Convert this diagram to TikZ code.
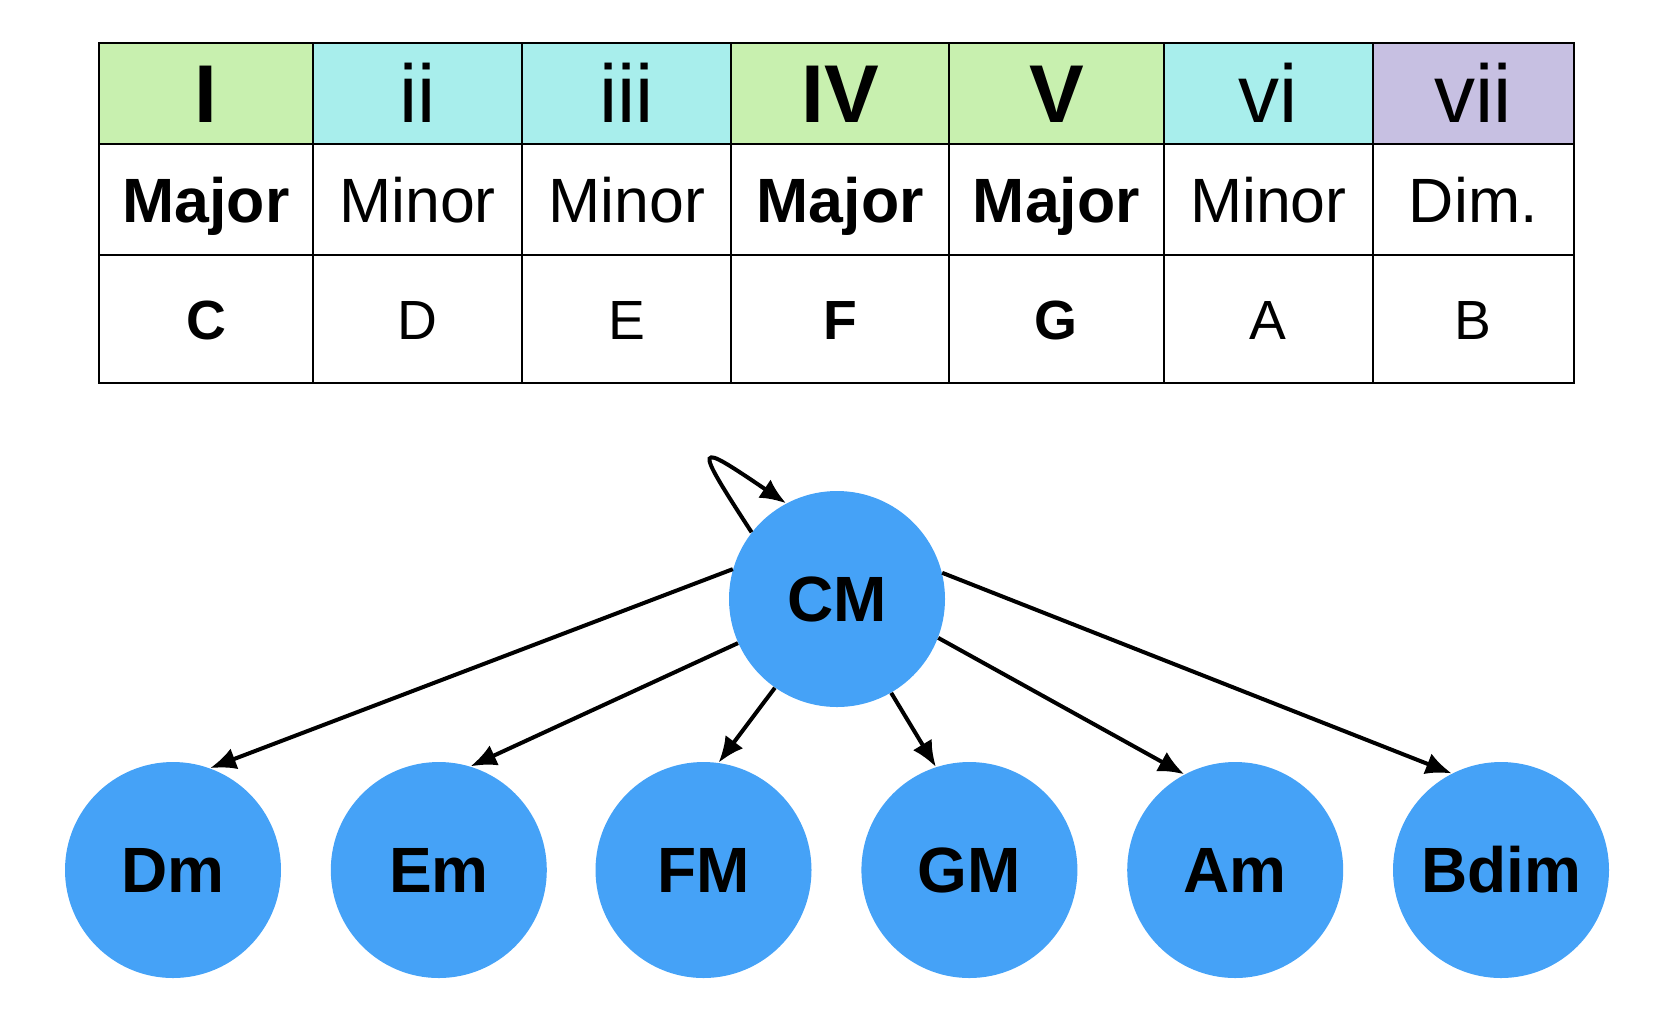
\documentclass[tikz,border=0pt]{standalone}
\usepackage{fontspec}
\setmainfont{Liberation Sans}
\usetikzlibrary{arrows.meta}
\definecolor{majgreen}{HTML}{C8F0AF}
\definecolor{mincyan}{HTML}{A8EEEC}
\definecolor{dimpurple}{HTML}{C7C0E2}
\definecolor{chordblue}{HTML}{45A2F7}
\newcommand{\maj}[1]{\textbf{#1}}

\begin{document}
\begin{tikzpicture}[x=0.5pt,y=-0.5pt,
  cell/.style={draw, line width=1.1pt, inner sep=0pt, text depth=0pt},
  degcell/.style={cell, minimum height=50.7pt, text height=29.4pt, font=\fontsize{41}{45}\selectfont},
  qualcell/.style={cell, minimum height=55.55pt, text height=22.4pt, font=\fontsize{31.3}{35}\selectfont},
  notecell/.style={cell, minimum height=64.05pt, text height=19.8pt, font=\fontsize{27.6}{30}\selectfont},
  chord/.style={circle, fill=chordblue, minimum size=108pt, inner sep=0pt, text height=22.9pt, text depth=0pt, font=\fontsize{32}{36}\selectfont\bfseries},
  link/.style={-{Latex[length=13pt,width=11pt]}, line width=2pt}]
\useasboundingbox (0,0) rectangle (1674,1014);
% scale degrees of C major
\node[degcell, fill=majgreen, minimum width=106.75pt] (deg1) at (206.05,93.4) {\maj{I}};
\node[degcell, fill=mincyan, minimum width=104.65pt] (deg2) at (417.45,93.4) {ii};
\node[degcell, fill=mincyan, minimum width=104.6pt] (deg3) at (626.7,93.4) {iii};
\node[degcell, fill=majgreen, minimum width=108.9pt] (deg4) at (840.2,93.4) {\maj{IV}};
\node[degcell, fill=majgreen, minimum width=107.3pt] (deg5) at (1056.4,93.4) {\maj{V}};
\node[degcell, fill=mincyan, minimum width=104.65pt] (deg6) at (1268.35,93.4) {vi};
\node[degcell, fill=dimpurple, minimum width=100.3pt] (deg7) at (1473.3,93.4) {vii};
% chord quality
\node[qualcell, minimum width=106.75pt] (qual1) at (206.05,199.65) {\maj{Major}};
\node[qualcell, minimum width=104.65pt] (qual2) at (417.45,199.65) {Minor};
\node[qualcell, minimum width=104.6pt] (qual3) at (626.7,199.65) {Minor};
\node[qualcell, minimum width=108.9pt] (qual4) at (840.2,199.65) {\maj{Major}};
\node[qualcell, minimum width=107.3pt] (qual5) at (1056.4,199.65) {\maj{Major}};
\node[qualcell, minimum width=104.65pt] (qual6) at (1268.35,199.65) {Minor};
\node[qualcell, minimum width=100.3pt] (qual7) at (1473.3,199.65) {Dim.};
% root notes
\node[notecell, minimum width=106.75pt] (note1) at (206.05,319.25) {\maj{C}};
\node[notecell, minimum width=104.65pt] (note2) at (417.45,319.25) {D};
\node[notecell, minimum width=104.6pt] (note3) at (626.7,319.25) {E};
\node[notecell, minimum width=108.9pt] (note4) at (840.2,319.25) {\maj{F}};
\node[notecell, minimum width=107.3pt] (note5) at (1056.4,319.25) {\maj{G}};
\node[notecell, minimum width=104.65pt] (note6) at (1268.35,319.25) {A};
\node[notecell, minimum width=100.3pt] (note7) at (1473.3,319.25) {B};

% chord graph
\node[chord] (CM) at (837,599) {CM};
\node[chord] (Dm) at (173,870) {Dm};
\node[chord] (Em) at (438.8,870) {Em};
\node[chord] (FM) at (703.5,870) {FM};
\node[chord] (GM) at (969.4,870) {GM};
\node[chord] (Am) at (1235.2,870) {Am};
\node[chord] (Bdim) at (1501,870) {Bdim};
\draw[link] (CM.142) .. controls +(123:55pt) and +(146:55pt) .. (CM.118); % stays on CM
\draw[link] (CM.164) -- (Dm.70);
\draw[link] (CM.204) -- (Em.73);
\draw[link] (CM.235) -- (FM.82);
\draw[link] (CM.300) -- (GM.108);
\draw[link] (CM.339) -- (Am.118);
\draw[link] (CM.14) -- (Bdim.117);
\end{tikzpicture}
\end{document}
